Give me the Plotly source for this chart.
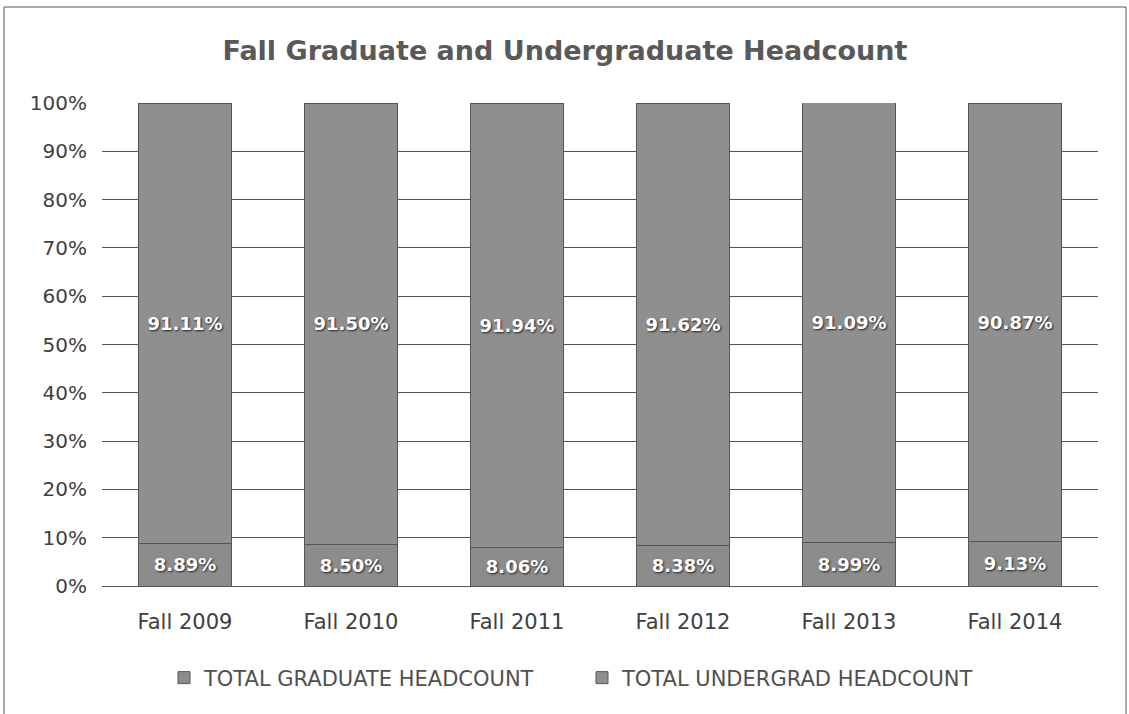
import plotly.graph_objects as go

categories = ["Fall 2009", "Fall 2010", "Fall 2011", "Fall 2012", "Fall 2013", "Fall 2014"]
graduate_pct = [8.89, 8.50, 8.06, 8.38, 8.99, 9.13]
undergrad_pct = [91.11, 91.50, 91.94, 91.62, 91.09, 90.87]
y_ticks = [0, 10, 20, 30, 40, 50, 60, 70, 80, 90, 100]

W, H = 1129, 714
L, R, T, B = 102, 31, 103, 128
pw, ph = W - L - R, H - T - B

FONT = "DejaVu Sans, Open Sans, sans-serif"
label_font = dict(family=FONT, size=18, color="white", weight="bold",
                  shadow="1px 1px 2px #222")

fig = go.Figure()
fig.add_trace(go.Bar(
    x=categories, y=graduate_pct, name="TOTAL GRADUATE HEADCOUNT",
    marker=dict(color="#8c8c8c", line=dict(color="#555555", width=1)),
    text=[f"{v:.2f}%" for v in graduate_pct], textposition="inside",
    insidetextanchor="middle", textfont=label_font, textangle=0,
))
fig.add_trace(go.Bar(
    x=categories, y=undergrad_pct, name="TOTAL UNDERGRAD HEADCOUNT",
    marker=dict(color="#8f8f8f", line=dict(color="#555555", width=1)),
    text=[f"{v:.2f}%" for v in undergrad_pct], textposition="inside",
    insidetextanchor="middle", textfont=label_font, textangle=0,
))

fig.update_layout(
    barmode="stack", bargap=0.445,
    width=W, height=H,
    margin=dict(l=L, r=R, t=T, b=B),
    paper_bgcolor="white", plot_bgcolor="white",
    font=dict(family=FONT, color="#404040"),
    title=dict(text="Fall Graduate and Undergraduate Headcount",
               x=(565 - L) / pw, xref="paper", xanchor="center",
               y=1 - 51 / H, yanchor="middle",
               font=dict(size=27, color="#595959", weight="bold")),
    legend=dict(orientation="h", x=(164 - L) / pw, xanchor="left",
                y=-(678 - (T + ph)) / ph, yanchor="middle",
                font=dict(size=21, color="#505050"),
                entrywidth=373, entrywidthmode="pixels",
                traceorder="normal", itemwidth=30),
    uniformtext=dict(minsize=10, mode="show"),
    showlegend=True,
)
fig.update_yaxes(range=[0, 100], tickvals=y_ticks, ticktext=[f"{v}%" for v in y_ticks],
                 showgrid=True, gridcolor="#555555", gridwidth=1, zeroline=False,
                 tickfont=dict(size=20, color="#404040"), ticks="",
                 ticklabelstandoff=14, showline=False)
fig.update_xaxes(showgrid=False, tickfont=dict(size=21, color="#404040"),
                 ticklabelstandoff=17,
                 showline=True, linecolor="#555555", linewidth=1)

# outer chart border
fig.add_shape(type="rect", xref="paper", yref="paper",
              x0=(4 - L) / pw, x1=(1126 - L) / pw,
              y0=-(716 - (T + ph)) / ph, y1=1 + (T - 7) / ph,
              line=dict(color="#555555", width=1), fillcolor="rgba(0,0,0,0)")

fig.write_html("out.html", config={"displayModeBar": False},
               post_script="document.body.style.margin='0';")
